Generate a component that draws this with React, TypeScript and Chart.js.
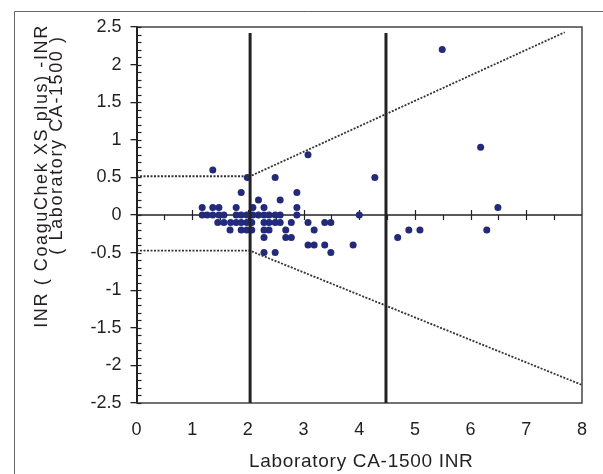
import React, { useEffect, useRef } from 'react';
import { Chart, registerables } from 'chart.js';

Chart.register(...registerables);

// ---- data ----
const xTickValues = [0, 1, 2, 3, 4, 5, 6, 7, 8];
const yTickValues = [-2.5, -2, -1.5, -1, -0.5, 0, 0.5, 1, 1.5, 2, 2.5];

const labInr = [
  1.37, 3.08,
  1.99, 2.49, 4.28,
  1.88, 2.88,
  2.19, 2.58,
  1.18, 1.37, 1.48, 1.79, 2.09, 2.29, 2.88, 6.49,
  1.18, 1.27, 1.37, 1.48, 1.57, 1.79, 1.88, 1.98, 2.09, 2.19, 2.29, 2.38, 2.49, 2.58, 2.88, 4.0,
  1.46, 1.57, 1.69, 1.79, 1.88, 1.98, 2.07, 2.29, 2.38, 2.49, 2.58, 2.78, 3.08, 3.38, 3.49,
  1.68, 1.88, 1.98, 2.07, 2.29, 2.38, 2.68, 3.19, 4.89, 5.09, 6.29,
  2.29, 2.68, 2.78, 4.69,
  3.08, 3.19, 3.38, 3.89,
  2.29, 2.49, 3.49,
  5.49, 6.18,
];
const inrDiff = [
  0.6, 0.8,
  0.5, 0.5, 0.5,
  0.3, 0.3,
  0.2, 0.2,
  0.1, 0.1, 0.1, 0.1, 0.1, 0.1, 0.1, 0.1,
  0, 0, 0, 0, 0, 0, 0, 0, 0, 0, 0, 0, 0, 0, 0, 0,
  -0.1, -0.1, -0.1, -0.1, -0.1, -0.1, -0.1, -0.1, -0.1, -0.1, -0.1, -0.1, -0.1, -0.1, -0.1,
  -0.2, -0.2, -0.2, -0.2, -0.2, -0.2, -0.2, -0.2, -0.2, -0.2, -0.2,
  -0.3, -0.3, -0.3, -0.3,
  -0.4, -0.4, -0.4, -0.4,
  -0.5, -0.5, -0.5,
  2.2, 0.9,
];

const cutoffX = [2.04, 4.48];
const cutoffYTop = 2.42;
const cutoffYBottom = -2.5;

const upperLimitX = [0, 2.04, 7.69];
const upperLimitY = [0.515, 0.515, 2.43];
const lowerLimitX = [0, 2.04, 8];
const lowerLimitY = [-0.475, -0.475, -2.26];

const xTitle = 'Laboratory CA-1500 INR';
const yTitleLines = ['INR ( CoaguChek XS plus) -INR', '( Laboratory CA-1500 )'];

const FONT = '"Liberation Sans", Arial, sans-serif';
const TEXT = '#231f20';

const decorPlugin = {
  id: 'decor',
  beforeDatasetsDraw(chart: any) {
    const { ctx, chartArea: a, scales } = chart;
    const x = scales.x;
    const y = scales.y;
    ctx.save();
    ctx.strokeStyle = '#444';
    ctx.lineWidth = 1.5;
    ctx.beginPath();
    ctx.moveTo(a.left, a.top);
    ctx.lineTo(a.right, a.top);
    ctx.lineTo(a.right, a.bottom);
    ctx.lineTo(a.left, a.bottom);
    ctx.stroke();
    const y0 = y.getPixelForValue(0);
    ctx.strokeStyle = '#222';
    ctx.lineWidth = 1.5;
    ctx.beginPath();
    ctx.moveTo(a.left, y0);
    ctx.lineTo(a.right, y0);
    ctx.stroke();
    ctx.lineWidth = 1.2;
    for (let i = 1; i < 16; i++) {
      const v = i / 2;
      const px = Math.round(x.getPixelForValue(v)) + 0.5;
      const isInt = i % 2 === 0;
      ctx.beginPath();
      ctx.moveTo(px, isInt ? y0 - 5 : y0);
      ctx.lineTo(px, y0 + 5);
      ctx.stroke();
    }
    for (let i = -25; i <= 25; i++) {
      const py = Math.round(y.getPixelForValue(i / 10)) + 0.5;
      ctx.beginPath();
      ctx.moveTo(a.left, py);
      ctx.lineTo(a.left + 5, py);
      ctx.stroke();
    }
    ctx.restore();
  },
  afterDraw(chart: any) {
    const { ctx, chartArea: a } = chart;
    ctx.save();
    ctx.strokeStyle = '#666';
    ctx.lineWidth = 1;
    ctx.beginPath();
    ctx.moveTo(14.5, 474);
    ctx.lineTo(14.5, 11.5);
    ctx.lineTo(603, 11.5);
    ctx.stroke();
    ctx.fillStyle = TEXT;
    ctx.textBaseline = 'alphabetic';
    ctx.textAlign = 'center';
    ctx.font = `19px ${FONT}`;
    (ctx as any).letterSpacing = '0.7px';
    ctx.fillText(xTitle, (a.left + a.right) / 2 + 2, 467);
    ctx.font = `18px ${FONT}`;
    (ctx as any).letterSpacing = '1.6px';
    const pos = [
      { bx: 47, cy: 176 },
      { bx: 62, cy: 145 },
    ];
    yTitleLines.forEach((t, i) => {
      ctx.save();
      ctx.translate(pos[i].bx, pos[i].cy);
      ctx.rotate(-Math.PI / 2);
      ctx.fillText(t, 0, 0);
      ctx.restore();
    });
    (ctx as any).letterSpacing = '0px';
    ctx.restore();
  },
};

export default function App() {
  const canvasRef = useRef<HTMLCanvasElement | null>(null);

  useEffect(() => {
    document.body.style.margin = '0';
    const canvas = canvasRef.current;
    if (!canvas) return;

    const points = labInr.map((v, i) => ({ x: v, y: inrDiff[i] }));
    const cutoffSets = cutoffX.map((cx) => ({
      type: 'scatter' as const,
      data: [
        { x: cx, y: cutoffYTop },
        { x: cx, y: cutoffYBottom },
      ],
      showLine: true,
      borderColor: '#222',
      borderWidth: 3,
      pointRadius: 0,
      order: 0,
    }));
    const limitSet = (xs: number[], ys: number[]) => ({
      type: 'scatter' as const,
      data: xs.map((v, i) => ({ x: v, y: ys[i] })),
      showLine: true,
      borderColor: '#333',
      borderWidth: 1.8,
      borderDash: [2, 1.5],
      pointRadius: 0,
      order: 0,
    });

    const chart = new Chart(canvas, {
      type: 'scatter',
      data: {
        datasets: [
          {
            data: points,
            backgroundColor: '#232a7a',
            borderWidth: 0,
            pointRadius: 3.5,
            order: 1,
          },
          ...cutoffSets,
          limitSet(upperLimitX, upperLimitY),
          limitSet(lowerLimitX, lowerLimitY),
        ] as any,
      },
      plugins: [decorPlugin],
      options: {
        animation: false,
        responsive: false,
        devicePixelRatio: 1,
        layout: { padding: { left: 0, right: 15, top: 27, bottom: 0 } },
        plugins: { legend: { display: false }, tooltip: { enabled: false } },
        scales: {
          x: {
            type: 'linear',
            min: 0,
            max: 8,
            afterBuildTicks: (s: any) => {
              s.ticks = xTickValues.map((v) => ({ value: v }));
            },
            afterFit: (s: any) => {
              s.height = 71;
            },
            grid: { display: false, drawTicks: false },
            border: { display: false },
            ticks: {
              padding: 16,
              color: TEXT,
              font: { family: FONT, size: 18 },
              callback: (v: any) => String(v),
            },
          },
          y: {
            type: 'linear',
            min: -2.5,
            max: 2.5,
            afterBuildTicks: (s: any) => {
              s.ticks = yTickValues.map((v) => ({ value: v }));
            },
            afterFit: (s: any) => {
              s.width = 136.5;
            },
            grid: {
              display: true,
              drawOnChartArea: false,
              drawTicks: true,
              tickLength: 6,
              color: '#222',
              lineWidth: 1.3,
            },
            border: { display: true, color: '#222', width: 2 },
            ticks: {
              padding: 9,
              color: TEXT,
              font: { family: FONT, size: 18 },
              callback: (v: any) => String(v),
            },
          },
        },
      } as any,
    });
    return () => chart.destroy();
  }, []);

  return (
    <div style={{ width: 603, height: 474, background: '#fff' }}>
      <canvas ref={canvasRef} width={603} height={474} style={{ display: 'block' }} />
    </div>
  );
}
